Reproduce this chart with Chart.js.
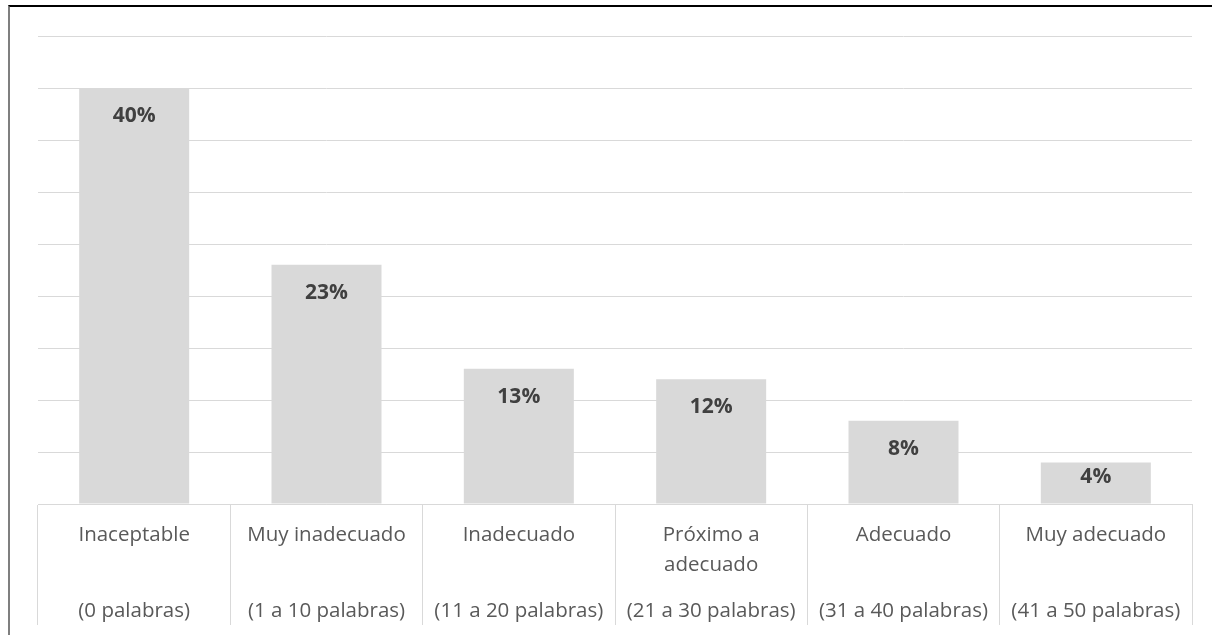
<!DOCTYPE html>
<html>
<head>
<meta charset="utf-8">
<script src="https://cdn.jsdelivr.net/npm/chart.js@4"></script>
<style>
  html, body { margin: 0; padding: 0; background: #fff; }
  #wrap { position: relative; width: 1212px; height: 635px; }
  #frame { position: absolute; left: 8px; top: 5px; right: 0; bottom: 0;
           border-top: 2px solid #000; border-left: 2px solid #7f7f7f; pointer-events: none; }
  canvas { position: absolute; left: 0; top: 0; }
</style>
</head>
<body>
<div id="wrap">
  <canvas id="c" width="1212" height="635"></canvas>
  <div id="frame"></div>
</div>
<script>
// ---- data ----
const categoryNames = ["Inaceptable", "Muy inadecuado", "Inadecuado", "Próximo a", "Adecuado", "Muy adecuado"];
const categoryNames2 = ["", "", "", "adecuado", "", ""];
const categoryRanges = ["(0 palabras)", "(1 a 10 palabras)", "(11 a 20 palabras)", "(21 a 30 palabras)", "(31 a 40 palabras)", "(41 a 50 palabras)"];
const values = [40, 23, 13, 12, 8, 4];
const valueLabels = ["40%", "23%", "13%", "12%", "8%", "4%"];

// multi-line tick labels (line slots of 15.2px: name, -, name cont., -, -, range, then spacing)
const labels = categoryNames.map((n, i) =>
  [n, "", categoryNames2[i], "", "", categoryRanges[i], "", "", "", "", "", "", ""]);

const FONT = "'Open Sans', 'DejaVu Sans', sans-serif";

const barLabels = {
  id: 'barLabels',
  afterDatasetsDraw(chart) {
    const ctx = chart.ctx;
    const meta = chart.getDatasetMeta(0);
    ctx.save();
    ctx.font = "bold 21px " + FONT;
    ctx.fillStyle = '#404040';
    ctx.textAlign = 'center';
    ctx.textBaseline = 'middle';
    meta.data.forEach((bar, i) => {
      const y = Math.min(bar.y + 28, bar.base - 26);
      ctx.fillText(valueLabels[i], bar.x, y);
    });
    ctx.restore();
  }
};

new Chart(document.getElementById('c'), {
  type: 'bar',
  data: {
    labels: labels,
    datasets: [{
      data: values,
      backgroundColor: '#d9d9d9',
      borderWidth: 0,
      barPercentage: 0.572,
      categoryPercentage: 1.0
    }]
  },
  options: {
    responsive: false,
    animation: false,
    devicePixelRatio: 1,
    layout: { padding: { left: 38, right: 20, top: 36, bottom: 7.6 } },
    plugins: { legend: { display: false }, tooltip: { enabled: false } },
    scales: {
      x: {
        offset: true,
        grid: {
          offset: true,
          drawOnChartArea: false,
          drawTicks: true,
          tickLength: 121,
          color: '#d9d9d9',
          tickColor: '#d9d9d9',
          lineWidth: 1
        },
        border: { display: true, color: '#d9d9d9', width: 1 },
        ticks: {
          autoSkip: false,
          maxRotation: 0,
          minRotation: 0,
          padding: -97.6,
          color: '#595959',
          font: { family: FONT, size: 20.5, lineHeight: '15.2px' }
        }
      },
      y: {
        min: 0,
        max: 45,
        ticks: { display: false, stepSize: 5 },
        grid: { color: '#d9d9d9', lineWidth: 1, drawTicks: false },
        border: { display: false }
      }
    }
  },
  plugins: [barLabels]
});
</script>
</body>
</html>
